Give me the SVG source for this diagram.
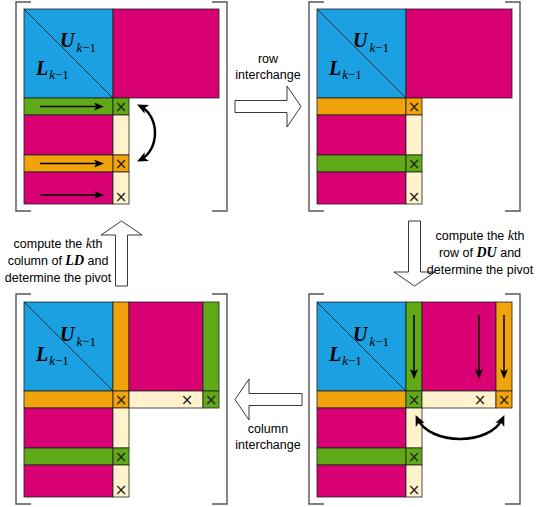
<svg xmlns="http://www.w3.org/2000/svg" width="540" height="507" viewBox="0 0 540 507">
<style>
rect{stroke:#222;stroke-width:0.8}
.b{fill:#1ba1e2}.m{fill:#d80073}.g{fill:#60a917}.o{fill:#f0a30a}.c{fill:#fff2cc}
.d{stroke:#111;stroke-width:0.8}
.br{fill:none;stroke:#555;stroke-width:1.4}
.x{font-family:"DejaVu Sans",sans-serif;font-size:15px;text-anchor:middle;fill:#222}
.mt{font-family:"Liberation Serif",serif;font-weight:bold;font-style:italic;font-size:20px;fill:#000}
.sk{font-weight:normal;font-style:italic;font-size:13px}
.sn{font-weight:normal;font-style:normal;font-size:13px}
.lbl{font-family:"Liberation Sans",sans-serif;font-size:12.5px;text-anchor:middle;fill:#000}
.mk{font-family:"Liberation Serif",serif;font-style:italic;font-size:14px}
.mb{font-family:"Liberation Serif",serif;font-style:italic;font-weight:bold;font-size:14px}
.blk{fill:#fff;stroke:#222;stroke-width:0.9}
.arr{stroke:#000;stroke-width:1.5;fill:none;marker-end:url(#ah)}
.dbl{stroke:#000;stroke-width:2.5;fill:none;marker-start:url(#ah2);marker-end:url(#ah2)}
</style>
<defs>
<marker id="ah" viewBox="0 0 10 8" markerUnits="userSpaceOnUse" markerWidth="10" markerHeight="8" refX="7" refY="4" orient="auto"><path d="M0,0 L10,4 L0,8 L2.5,4 z" fill="#000"/></marker>
<marker id="ah2" viewBox="0 0 10 9" markerUnits="userSpaceOnUse" markerWidth="11" markerHeight="10" refX="7" refY="4.5" orient="auto-start-reverse"><path d="M0,0 L10,4.5 L0,9 L2.5,4.5 z" fill="#000"/></marker>
</defs>

<g id="matrix1">
<path class="br" d="M31,2 H16 V211 H31 M212,2 H227 V211 H212"/>
<rect class="b" x="24" y="9" width="89" height="89"/>
<line class="d" x1="24" y1="9" x2="113" y2="98"/>
<rect class="m" x="113" y="9" width="106" height="89"/>
<rect class="g" x="24" y="98" width="89" height="17"/>
<rect class="g" x="113" y="98" width="16" height="17"/>
<rect class="m" x="24" y="115" width="89" height="40"/>
<rect class="c" x="113" y="115" width="16" height="40"/>
<rect class="o" x="24" y="155" width="89" height="17"/>
<rect class="o" x="113" y="155" width="16" height="17"/>
<rect class="m" x="24" y="172" width="89" height="32"/>
<rect class="c" x="113" y="172" width="16" height="32"/>
<text class="mt" x="60" y="47">U<tspan class="sk" dx="2" dy="4.5">k</tspan><tspan class="sn">−1</tspan></text>
<text class="mt" x="36" y="74.5">L<tspan class="sk" dx="1" dy="4.5">k</tspan><tspan class="sn">−1</tspan></text>
<text class="x" x="121" y="112">×</text>
<text class="x" x="121" y="169">×</text>
<text class="x" x="121" y="202">×</text>
</g>

<g id="matrix2">
<path class="br" d="M324,2 H309 V211 H324 M505,2 H520 V211 H505"/>
<rect class="b" x="317" y="9" width="89" height="89"/>
<line class="d" x1="317" y1="9" x2="406" y2="98"/>
<rect class="m" x="406" y="9" width="106" height="89"/>
<rect class="o" x="317" y="98" width="89" height="17"/>
<rect class="o" x="406" y="98" width="16" height="17"/>
<rect class="m" x="317" y="115" width="89" height="40"/>
<rect class="c" x="406" y="115" width="16" height="40"/>
<rect class="g" x="317" y="155" width="89" height="17"/>
<rect class="g" x="406" y="155" width="16" height="17"/>
<rect class="m" x="317" y="172" width="89" height="32"/>
<rect class="c" x="406" y="172" width="16" height="32"/>
<text class="mt" x="353" y="47">U<tspan class="sk" dx="2" dy="4.5">k</tspan><tspan class="sn">−1</tspan></text>
<text class="mt" x="329" y="74.5">L<tspan class="sk" dx="1" dy="4.5">k</tspan><tspan class="sn">−1</tspan></text>
<text class="x" x="414" y="112">×</text>
<text class="x" x="414" y="169">×</text>
<text class="x" x="414" y="202">×</text>
</g>

<g id="matrix3">
<path class="br" d="M31,294 H16 V504 H31 M212,294 H227 V504 H212"/>
<rect class="b" x="24" y="302" width="89" height="89"/>
<line class="d" x1="24" y1="302" x2="113" y2="391"/>
<rect class="o" x="113" y="302" width="16" height="89"/>
<rect class="m" x="129" y="302" width="74" height="89"/>
<rect class="g" x="203" y="302" width="16" height="89"/>
<rect class="o" x="24" y="391" width="89" height="17"/>
<rect class="o" x="113" y="391" width="16" height="17"/>
<rect class="c" x="129" y="391" width="74" height="17"/>
<rect class="g" x="203" y="391" width="16" height="17"/>
<rect class="m" x="24" y="408" width="89" height="40"/>
<rect class="c" x="113" y="408" width="16" height="40"/>
<rect class="g" x="24" y="448" width="89" height="17"/>
<rect class="g" x="113" y="448" width="16" height="17"/>
<rect class="m" x="24" y="465" width="89" height="32"/>
<rect class="c" x="113" y="465" width="16" height="32"/>
<text class="mt" x="60" y="341">U<tspan class="sk" dx="2" dy="4.5">k</tspan><tspan class="sn">−1</tspan></text>
<text class="mt" x="36" y="360.5">L<tspan class="sk" dx="1" dy="4.5">k</tspan><tspan class="sn">−1</tspan></text>
<text class="x" x="121" y="405">×</text>
<text class="x" x="187" y="405">×</text>
<text class="x" x="211" y="405">×</text>
<text class="x" x="121" y="462">×</text>
<text class="x" x="121" y="495">×</text>
</g>

<g id="matrix4">
<path class="br" d="M324,294 H309 V504 H324 M505,294 H520 V504 H505"/>
<rect class="b" x="317" y="302" width="89" height="89"/>
<line class="d" x1="317" y1="302" x2="406" y2="391"/>
<rect class="g" x="406" y="302" width="16" height="89"/>
<rect class="m" x="422" y="302" width="74" height="89"/>
<rect class="o" x="496" y="302" width="16" height="89"/>
<rect class="o" x="317" y="391" width="89" height="17"/>
<rect class="g" x="406" y="391" width="16" height="17"/>
<rect class="c" x="422" y="391" width="74" height="17"/>
<rect class="o" x="496" y="391" width="16" height="17"/>
<rect class="m" x="317" y="408" width="89" height="40"/>
<rect class="c" x="406" y="408" width="16" height="40"/>
<rect class="g" x="317" y="448" width="89" height="17"/>
<rect class="g" x="406" y="448" width="16" height="17"/>
<rect class="m" x="317" y="465" width="89" height="32"/>
<rect class="c" x="406" y="465" width="16" height="32"/>
<text class="mt" x="353" y="341">U<tspan class="sk" dx="2" dy="4.5">k</tspan><tspan class="sn">−1</tspan></text>
<text class="mt" x="329" y="360.5">L<tspan class="sk" dx="1" dy="4.5">k</tspan><tspan class="sn">−1</tspan></text>
<text class="x" x="414" y="405">×</text>
<text class="x" x="480" y="405">×</text>
<text class="x" x="504" y="405">×</text>
<text class="x" x="414" y="462">×</text>
<text class="x" x="414" y="495">×</text>
</g>

<g id="connectors">
<line class="arr" x1="40" y1="106.5" x2="101" y2="106.5"/>
<line class="arr" x1="40" y1="163.5" x2="101" y2="163.5"/>
<line class="arr" x1="40" y1="195" x2="101" y2="195"/>
<path class="dbl" d="M140,106 C160,116 160,150 140,160"/>
<line class="arr" x1="414" y1="315" x2="414" y2="376"/>
<line class="arr" x1="479" y1="315" x2="479" y2="376"/>
<line class="arr" x1="504" y1="315" x2="504" y2="376"/>
<path class="dbl" d="M417,418 C430,446 490,446 503,418"/>
</g>

<g id="row-interchange">
<polygon class="blk" points="235,100.5 287,100.5 287,86 301,106.5 287,127 287,112.5 235,112.5"/>
<text class="lbl" x="268" y="63">row</text>
<text class="lbl" x="268" y="79">interchange</text>
</g>

<g id="compute-row">
<polygon class="blk" points="408.5,221 420.5,221 420.5,272 435,272 414.5,286 394,272 408.5,272"/>
<text class="lbl" x="480" y="240">compute the <tspan class="mk">k</tspan>th</text>
<text class="lbl" x="480" y="257">row of <tspan class="mb">DU</tspan> and</text>
<text class="lbl" x="480" y="274">determine the pivot</text>
</g>

<g id="column-interchange">
<polygon class="blk" points="302,393.5 249,393.5 249,379 235,399.5 249,420 249,405.5 302,405.5"/>
<text class="lbl" x="268" y="433">column</text>
<text class="lbl" x="268" y="449">interchange</text>
</g>

<g id="compute-column">
<polygon class="blk" points="115.5,286 115.5,235 101,235 121.5,221 142,235 127.5,235 127.5,286"/>
<text class="lbl" x="58" y="248">compute the <tspan class="mk">k</tspan>th</text>
<text class="lbl" x="58" y="265">column of <tspan class="mb">LD</tspan> and</text>
<text class="lbl" x="58" y="282">determine the pivot</text>
</g>
</svg>
